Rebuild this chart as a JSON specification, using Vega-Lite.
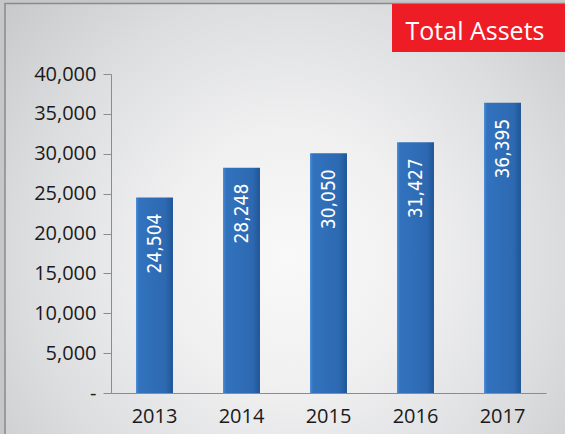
{
  "$schema": "https://vega.github.io/schema/vega-lite/v6.json",
  "width": 435,
  "height": 319,
  "autosize": {"type": "none"},
  "padding": {"left": 111, "top": 74, "right": 19, "bottom": 41},
  "background": "#c6c7c9",
  "config": {
    "font": "Open Sans",
    "view": {"stroke": null}
  },
  "data": {
    "values": [
      {"year": "2013", "assets": 24504},
      {"year": "2014", "assets": 28248},
      {"year": "2015", "assets": 30050},
      {"year": "2016", "assets": 31427},
      {"year": "2017", "assets": 36395}
    ]
  },
  "encoding": {
    "x": {
      "field": "year",
      "type": "ordinal",
      "scale": {"paddingInner": 0.575, "paddingOuter": 0.2875},
      "axis": {
        "title": null,
        "zindex": 1,
        "labelAngle": 0,
        "ticks": false,
        "domainColor": "#8c8c8c",
        "labelFontSize": 20,
        "labelColor": "#1a1a1a",
        "labelPadding": 13
      }
    },
    "y": {
      "field": "assets",
      "type": "quantitative",
      "scale": {"domain": [0, 40000], "nice": false},
      "axis": {
        "title": null,
        "zindex": 1,
        "values": [0, 5000, 10000, 15000, 20000, 25000, 30000, 35000, 40000],
        "grid": false,
        "labelOverlap": false,
        "domainColor": "#8c8c8c",
        "tickColor": "#8c8c8c",
        "tickSize": 8,
        "labelPadding": 7,
        "labelFontSize": 20,
        "labelColor": "#1a1a1a",
        "labelExpr": "datum.value == 0 ? '-' : format(datum.value, ',')"
      }
    }
  },
  "layer": [
    {
      "data": {"values": [{"label": "backdrop"}]},
      "mark": {
        "type": "rect",
        "stroke": "#8a8a8a",
        "strokeWidth": 1.5,
        "fill": {
          "gradient": "radial",
          "x1": 0.5, "y1": 0.56, "r1": 0,
          "x2": 0.5, "y2": 0.56, "r2": 0.75,
          "stops": [
            {"offset": 0, "color": "#f9f9f9"},
            {"offset": 0.3, "color": "#f0f0f1"},
            {"offset": 0.62, "color": "#dcdddf"},
            {"offset": 0.92, "color": "#c6c7c9"},
            {"offset": 1, "color": "#c2c3c5"}
          ]
        }
      },
      "encoding": {
        "x": {"value": -106},
        "x2": {"value": 464},
        "y": {"value": -70.5},
        "y2": {"value": 370}
      }
    },
    {
      "mark": {
        "type": "bar",
        "fill": {
          "gradient": "linear",
          "x1": 0, "y1": 0, "x2": 1, "y2": 0,
          "stops": [
            {"offset": 0, "color": "#4d8ed6"},
            {"offset": 0.08, "color": "#3272be"},
            {"offset": 0.8, "color": "#2d69b1"},
            {"offset": 1, "color": "#1f5596"}
          ]
        }
      }
    },
    {
      "mark": {
        "type": "text",
        "angle": 270,
        "align": "right",
        "baseline": "middle",
        "dx": -16,
        "color": "white",
        "font": "'Liberation Sans Narrow', 'DejaVu Sans Condensed', sans-serif",
        "fontSize": 19
      },
      "encoding": {
        "text": {"field": "assets", "type": "quantitative", "format": ","}
      }
    },
    {
      "data": {"values": [{"label": "Total Assets"}]},
      "mark": {"type": "rect", "color": "#ee1c25"},
      "encoding": {
        "x": {"value": 281},
        "x2": {"value": 454},
        "y": {"value": -70},
        "y2": {"value": -22}
      }
    },
    {
      "data": {"values": [{"label": "Total Assets"}]},
      "mark": {
        "type": "text",
        "align": "center",
        "baseline": "alphabetic",
        "color": "white",
        "fontSize": 25
      },
      "encoding": {
        "x": {"value": 364},
        "y": {"value": -34},
        "text": {"field": "label"}
      }
    }
  ]
}
